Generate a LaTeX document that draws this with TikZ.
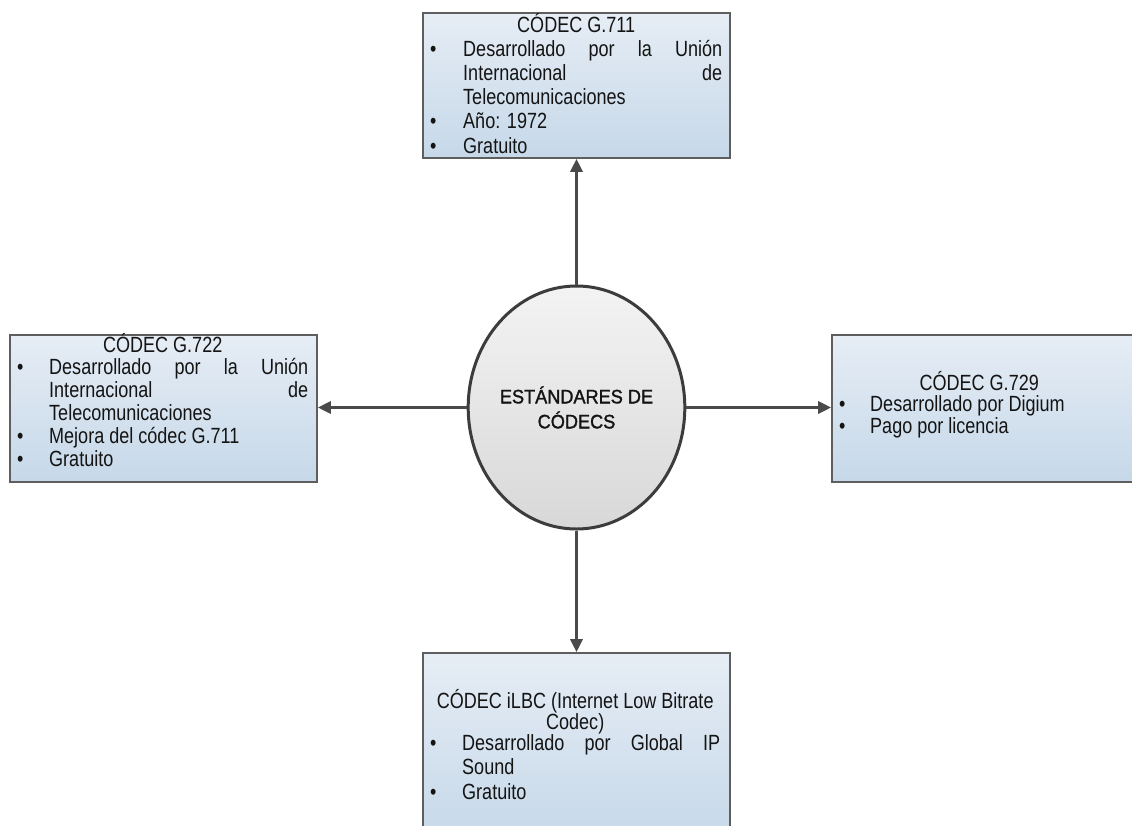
\documentclass[tikz,border=0pt]{standalone}
\usepackage{fontspec}
\setmainfont{Liberation Sans}[FakeStretch=0.82]
\newfontfamily\ellfont{Liberation Sans}[FakeStretch=0.93,FakeBold=1.5]
\usetikzlibrary{arrows.meta,shapes.geometric,shadings}
\definecolor{boxtop}{HTML}{E6EDF5}
\definecolor{boxbot}{HTML}{C6D8E9}
\definecolor{boxline}{HTML}{5E5E5E}
\definecolor{ellline}{HTML}{3C3C3C}
\definecolor{elltop}{HTML}{F3F3F3}
\definecolor{ellbot}{HTML}{D8D8D8}
\definecolor{arrowc}{HTML}{4A4A4A}
\definecolor{txt}{HTML}{141414}
\newcommand\bx[2]{\makebox[#1][l]{#2}}
\begin{document}
\begin{tikzpicture}[x=1pt,y=-1pt,
 codecbox/.style={draw=boxline,line width=1.6pt,top color=boxtop,bottom color=boxbot,rectangle,inner sep=0pt},
 centre/.style={ellipse,draw=ellline,line width=3pt,top color=elltop,bottom color=ellbot,minimum width=213pt,minimum height=243pt,inner sep=0pt,text=txt,align=center,font=\ellfont\fontsize{19.5}{25}\selectfont},
 boxtext/.style={anchor=base west,inner sep=0pt,text=txt},
 link/.style={draw=arrowc,line width=3pt,-{Triangle[length=13pt,width=12pt]}}
]
\useasboundingbox (0,0) rectangle (1132,825);
\clip (0,0) rectangle (1132,825);
\fill[white] (0,0) rectangle (1132,825);

% boxes
\node[codecbox,minimum width=307pt,minimum height=145pt] (g711) at (576.5,85.5) {};
\node[codecbox,minimum width=307pt,minimum height=147pt] (g722) at (163.5,408.5) {};
\node[codecbox,minimum width=308pt,minimum height=147pt] (g729) at (986,408.5) {};
\node[codecbox,minimum width=307pt,minimum height=187pt] (ilbc) at (576.5,746.5) {};

% centre
\node[centre] (centre) at (576.5,407.5) {ESTÁNDARES DE\\CÓDECS};

% texts
\node[boxtext] (t711) at (430,32) {\begin{minipage}[t]{292pt}\fontsize{22}{24.2}\selectfont\raggedright
\makebox[292pt][c]{CÓDEC G.711}\\
\bx{33pt}{\textbullet}\makebox[259pt][s]{Desarrollado por la Unión}\\
\bx{33pt}{}\makebox[259pt][s]{Internacional de}\\
\bx{33pt}{}Telecomunicaciones\\
\bx{33pt}{\textbullet}Año: 1972\\
\bx{33pt}{\textbullet}Gratuito
\end{minipage}};

\node[boxtext] (t722) at (17,352) {\begin{minipage}[t]{291pt}\fontsize{22}{22.8}\selectfont\raggedright
\makebox[291pt][c]{CÓDEC G.722}\\
\bx{32pt}{\textbullet}\makebox[259pt][s]{Desarrollado por la Unión}\\
\bx{32pt}{}\makebox[259pt][s]{Internacional de}\\
\bx{32pt}{}Telecomunicaciones\\
\bx{32pt}{\textbullet}Mejora del códec G.711\\
\bx{32pt}{\textbullet}Gratuito
\end{minipage}};

\node[boxtext] (t729) at (839,390) {\begin{minipage}[t]{280pt}\fontsize{22}{21.5}\selectfont\raggedright
\makebox[280pt][c]{CÓDEC G.729}\\
\bx{31pt}{\textbullet}Desarrollado por Digium\\
\bx{31pt}{\textbullet}Pago por licencia
\end{minipage}};

\node[boxtext] (tilbc) at (430,708) {\begin{minipage}[t]{290pt}\fontsize{22}{24.5}\selectfont\raggedright
\makebox[290pt][c]{CÓDEC iLBC (Internet Low Bitrate}\\[-3.5pt]
\makebox[290pt][c]{Codec)}\\[-3.5pt]
\bx{32pt}{\textbullet}\makebox[258pt][s]{Desarrollado por Global IP}\\
\bx{32pt}{}Sound\\
\bx{32pt}{\textbullet}Gratuito
\end{minipage}};

% connectors
\draw[link] (centre.north) -- (g711.south);
\draw[link] (centre.south) -- (ilbc.north);
\draw[link] (centre.west) -- (centre.west -| g722.east);
\draw[link] (centre.east) -- (centre.east -| g729.west);
\end{tikzpicture}
\end{document}
